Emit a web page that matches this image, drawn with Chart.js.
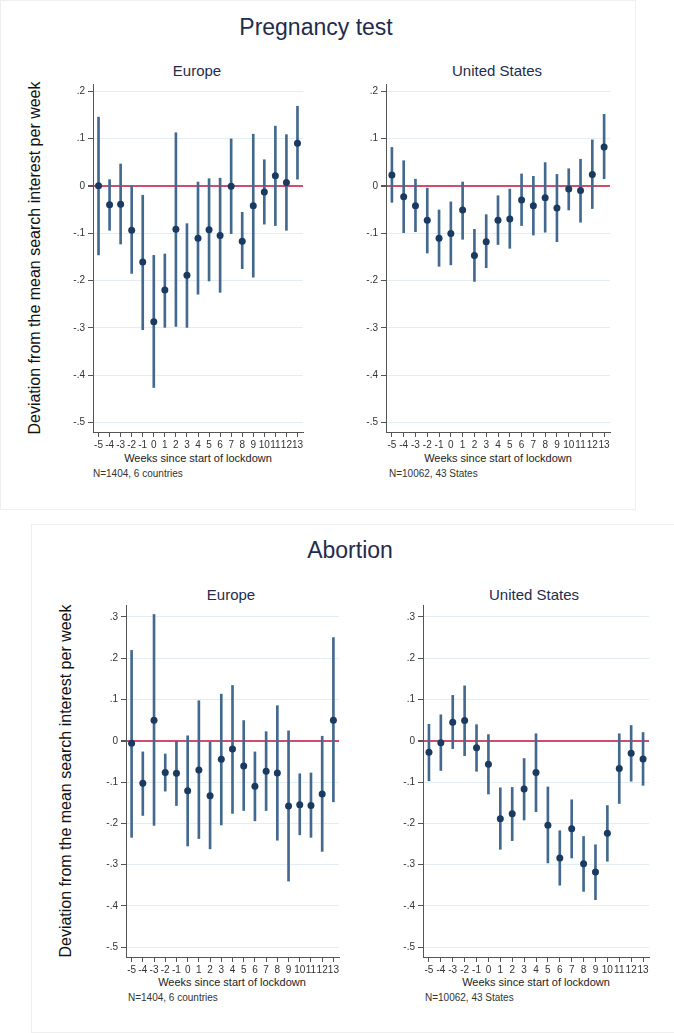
<!DOCTYPE html>
<html>
<head>
<meta charset="utf-8">
<script src="https://cdn.jsdelivr.net/npm/chart.js@4.4.0/dist/chart.umd.min.js"></script>
<style>
    body {
        margin: 0;
        background: #fff;
        width: 674px;
        height: 1033px;
        position: relative;
        overflow: hidden;
        font-family: "Liberation Sans", Arial, sans-serif;
    }
    .box { position: absolute; border: 1px solid #efefef; }
    .txt { position: absolute; white-space: nowrap; transform: translate(-50%, -50%); }
    .title { font-size: 23px; color: #1f2c4c; }
    .sub { font-size: 15px; color: #1f2c4c; }
    .xtitle { font-size: 11px; color: #222; font-family: "Liberation Sans Narrow", "Liberation Sans", Arial, sans-serif; }
    .note { position: absolute; white-space: nowrap; transform: translateY(-50%); font-size: 10px; color: #333; font-family: "Liberation Sans Narrow", "Liberation Sans", Arial, sans-serif; }
    .ytitle { position: absolute; white-space: nowrap; transform: translate(-50%, -50%) rotate(-90deg); font-size: 16px; color: #111; }
    .panel { position: absolute; }
</style>
</head>
<body>
<div class="box" style="left:0px;top:0px;width:634px;height:508px;"></div>
<div class="box" style="left:31px;top:524px;width:642px;height:507px;"></div>

<div class="txt title" style="left:316px;top:27px;">Pregnancy test</div>
<div class="txt sub" style="left:197px;top:70px;">Europe</div>
<div class="txt sub" style="left:497px;top:70px;">United States</div>
<div class="ytitle" style="left:35px;top:258px;">Deviation from the mean search interest per week</div>
<div class="txt xtitle" style="left:198px;top:458px;">Weeks since start of lockdown</div>
<div class="txt xtitle" style="left:498px;top:458px;">Weeks since start of lockdown</div>
<div class="note" style="left:93px;top:473px;">N=1404, 6 countries</div>
<div class="note" style="left:389px;top:473px;">N=10062, 43 States</div>

<div class="txt title" style="left:350px;top:550px;">Abortion</div>
<div class="txt sub" style="left:231px;top:594px;">Europe</div>
<div class="txt sub" style="left:534px;top:594px;">United States</div>
<div class="ytitle" style="left:66px;top:781px;">Deviation from the mean search interest per week</div>
<div class="txt xtitle" style="left:232px;top:982px;">Weeks since start of lockdown</div>
<div class="txt xtitle" style="left:536px;top:982px;">Weeks since start of lockdown</div>
<div class="note" style="left:128px;top:997px;">N=1404, 6 countries</div>
<div class="note" style="left:425px;top:997px;">N=10062, 43 States</div>

<div class="panel" id="p1"><canvas id="c1"></canvas></div>
<div class="panel" id="p2"><canvas id="c2"></canvas></div>
<div class="panel" id="p3"><canvas id="c3"></canvas></div>
<div class="panel" id="p4"><canvas id="c4"></canvas></div>

<script>
// weeks since lockdown
const weeks = ["-5", "-4", "-3", "-2", "-1", "0", "1", "2", "3", "4", "5", "6", "7", "8", "9", "10", "11", "12", "13"];

const ticksPregnancy = [0.2, 0.1, 0, -0.1, -0.2, -0.3, -0.4, -0.5];
const ticksAbortion = [0.3, 0.2, 0.1, 0, -0.1, -0.2, -0.3, -0.4, -0.5];

// Pregnancy test, Europe
const pregEuEst = [0.000, -0.040, -0.039, -0.094, -0.161, -0.287, -0.220, -0.092, -0.189, -0.111, -0.093, -0.105, -0.001, -0.117, -0.042, -0.013, 0.021, 0.007, 0.090];
const pregEuLo = [-0.146, -0.094, -0.123, -0.185, -0.304, -0.426, -0.299, -0.297, -0.299, -0.229, -0.201, -0.225, -0.101, -0.175, -0.193, -0.081, -0.084, -0.094, 0.014];
const pregEuHi = [0.145, 0.013, 0.046, -0.001, -0.020, -0.147, -0.144, 0.112, -0.080, 0.008, 0.015, 0.016, 0.099, -0.056, 0.109, 0.055, 0.126, 0.108, 0.168];

// Pregnancy test, United States
const pregUsEst = [0.023, -0.023, -0.042, -0.073, -0.111, -0.101, -0.051, -0.147, -0.118, -0.073, -0.070, -0.030, -0.042, -0.025, -0.047, -0.007, -0.010, 0.024, 0.082];
const pregUsLo = [-0.035, -0.099, -0.097, -0.142, -0.170, -0.167, -0.113, -0.202, -0.173, -0.124, -0.132, -0.084, -0.104, -0.098, -0.118, -0.051, -0.077, -0.048, 0.015];
const pregUsHi = [0.081, 0.053, 0.014, -0.005, -0.051, -0.034, 0.008, -0.092, -0.061, -0.021, -0.007, 0.025, 0.020, 0.049, 0.024, 0.036, 0.056, 0.097, 0.151];

// Abortion, Europe
const abEuEst = [-0.006, -0.103, 0.050, -0.077, -0.079, -0.121, -0.071, -0.133, -0.045, -0.020, -0.061, -0.110, -0.074, -0.078, -0.158, -0.155, -0.157, -0.129, 0.050];
const abEuLo = [-0.234, -0.181, -0.205, -0.122, -0.157, -0.255, -0.237, -0.262, -0.204, -0.176, -0.169, -0.194, -0.169, -0.241, -0.340, -0.228, -0.234, -0.268, -0.148];
const abEuHi = [0.219, -0.027, 0.306, -0.032, -0.001, 0.012, 0.097, -0.003, 0.113, 0.134, 0.049, -0.027, 0.022, 0.085, 0.024, -0.080, -0.078, 0.011, 0.250];

// Abortion, United States
const abUsEst = [-0.028, -0.005, 0.045, 0.049, -0.017, -0.057, -0.189, -0.177, -0.117, -0.077, -0.205, -0.284, -0.213, -0.298, -0.318, -0.224, -0.067, -0.030, -0.044];
const abUsLo = [-0.097, -0.072, -0.019, -0.036, -0.074, -0.129, -0.263, -0.242, -0.192, -0.172, -0.296, -0.350, -0.284, -0.365, -0.385, -0.292, -0.152, -0.098, -0.108];
const abUsHi = [0.040, 0.063, 0.110, 0.133, 0.039, 0.015, -0.114, -0.113, -0.043, 0.017, -0.112, -0.218, -0.143, -0.232, -0.252, -0.157, 0.017, 0.037, 0.020];

Chart.defaults.font.family = '"Liberation Sans", Arial, sans-serif';
Chart.defaults.animation = false;

const Y_AXIS_W = 40;
const PAD_TOP = 10;
const PAD_RIGHT = 6;
const X_AXIS_H = 22;

function stataLabel(v) {
    if (Math.abs(v) < 1e-9) return "0";
    return (v < 0 ? "-" : "") + "." + Math.round(Math.abs(v) * 10);
}

function makePanel(id, canvasId, box, yMin, yMax, yTicks, est, lo, hi) {
    const div = document.getElementById(id);
    const areaW = box.right - box.axisX;
    const areaH = box.bottom - box.top;
    div.style.left = (box.axisX - Y_AXIS_W) + "px";
    div.style.top = (box.top - PAD_TOP) + "px";
    div.style.width = (Y_AXIS_W + areaW + PAD_RIGHT) + "px";
    div.style.height = (PAD_TOP + areaH + X_AXIS_H) + "px";

    const ci = weeks.map((w, i) => [lo[i], hi[i]]);

    return new Chart(document.getElementById(canvasId), {
        type: "bar",
        data: {
            labels: weeks,
            datasets: [
                {
                    type: "line",
                    data: est,
                    showLine: false,
                    pointRadius: 3.5,
                    pointBorderWidth: 0,
                    pointBackgroundColor: "#1b3a60",
                    order: 0,
                },
                {
                    data: ci,
                    backgroundColor: "#44698f",
                    barThickness: 2,
                    order: 1,
                },
            ],
        },
        options: {
            responsive: true,
            maintainAspectRatio: false,
            layout: { padding: { top: PAD_TOP, right: PAD_RIGHT, left: 0, bottom: 0 } },
            plugins: { legend: { display: false }, tooltip: { enabled: false } },
            scales: {
                x: {
                    offset: true,
                    grid: {
                        offset: false,
                        drawOnChartArea: false,
                        tickLength: 5,
                        tickColor: "#555",
                    },
                    border: { color: "#555", width: 1 },
                    ticks: {
                        autoSkip: false,
                        maxRotation: 0,
                        padding: 2,
                        color: "#333",
                        font: { size: 10 },
                    },
                    afterFit: (scale) => { scale.height = X_AXIS_H; },
                },
                y: {
                    min: yMin,
                    max: yMax,
                    afterBuildTicks: (scale) => {
                        scale.ticks = yTicks.map((v) => ({ value: v }));
                    },
                    grid: {
                        color: (ctx) => (ctx.tick && Math.abs(ctx.tick.value) < 1e-9 ? "#d24c6d" : "#e4edf2"),
                        lineWidth: (ctx) => (ctx.tick && Math.abs(ctx.tick.value) < 1e-9 ? 2 : 1),
                        tickLength: 5,
                        tickColor: "#555",
                    },
                    border: { color: "#555", width: 1 },
                    ticks: {
                        padding: 3,
                        color: "#333",
                        font: { size: 10 },
                        callback: (v) => stataLabel(v),
                    },
                    afterFit: (scale) => { scale.width = Y_AXIS_W; },
                },
            },
        },
    });
}

makePanel("p1", "c1", { axisX: 93, right: 303, top: 84, bottom: 432 }, -0.52, 0.215, ticksPregnancy, pregEuEst, pregEuLo, pregEuHi);
makePanel("p2", "c2", { axisX: 386, right: 610, top: 84, bottom: 432 }, -0.52, 0.215, ticksPregnancy, pregUsEst, pregUsLo, pregUsHi);
makePanel("p3", "c3", { axisX: 126, right: 339, top: 605, bottom: 957 }, -0.524, 0.329, ticksAbortion, abEuEst, abEuLo, abEuHi);
makePanel("p4", "c4", { axisX: 423, right: 649, top: 605, bottom: 957 }, -0.524, 0.329, ticksAbortion, abUsEst, abUsLo, abUsHi);
</script>
</body>
</html>
